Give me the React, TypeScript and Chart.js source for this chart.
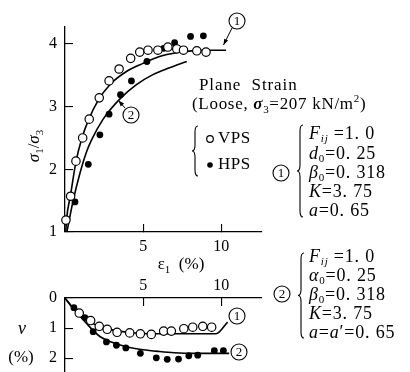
import React, { useEffect, useRef } from "react";
import { Chart, registerables } from "chart.js";

Chart.register(...registerables);

// ---------- data ----------
const strainTicks = [5, 10];
const ratioTicks = [1, 2, 3, 4];
const volTicks = [0, 1, 2];

// upper panel: principal stress ratio vs axial strain
const vpsStrain = [0.06, 0.36, 0.7, 1.13, 1.55, 2.19, 2.82, 3.46, 4.2, 4.78, 5.31, 5.94, 6.58, 7.15, 7.58, 8.43, 9.02];
const vpsRatio = [1.19, 1.57, 2.13, 2.5, 2.8, 3.14, 3.41, 3.6, 3.77, 3.87, 3.9, 3.9, 3.95, 3.92, 3.9, 3.89, 3.87];
const hpsStrain = [0.64, 1.49, 2.23, 2.82, 3.55, 4.25, 5.24, 6.31, 7.01, 8.03, 8.85];
const hpsRatio = [1.48, 2.08, 2.55, 2.88, 3.19, 3.41, 3.72, 3.93, 4.02, 4.12, 4.13];
const fit1Strain = [0.05, 0.1, 0.36, 0.7, 1.06, 1.49, 2.12, 2.87, 3.93, 4.99, 6.05, 7.11, 8.17, 8.81, 10.3];
const fit1Ratio = [1.0, 1.2, 1.6, 2.12, 2.48, 2.78, 3.1, 3.35, 3.56, 3.69, 3.8, 3.86, 3.89, 3.9, 3.9];
const fit2Strain = [0.12, 0.53, 0.96, 1.38, 1.7, 2.44, 3.5, 4.57, 5.62, 6.69, 7.79];
const fit2Ratio = [1.0, 1.51, 1.94, 2.28, 2.47, 2.8, 3.12, 3.35, 3.51, 3.62, 3.72];

// lower panel: volumetric strain vs axial strain
const vpsVStrain = [0.91, 1.64, 2.19, 2.7, 3.33, 4.14, 4.82, 5.52, 6.31, 6.8, 7.6, 8.17, 8.81, 9.38];
const vpsVol = [0.5, 0.75, 0.94, 1.04, 1.14, 1.16, 1.19, 1.21, 1.1, 1.1, 1.02, 0.97, 0.94, 0.97];
const hpsVStrain = [0.57, 1.27, 1.8, 2.65, 3.29, 3.89, 4.82, 5.84, 6.54, 7.26, 7.92, 8.49, 9.55, 10.13];
const hpsVol = [0.32, 0.65, 1.12, 1.46, 1.57, 1.66, 1.84, 1.99, 2.04, 2.03, 1.92, 1.9, 1.75, 1.75];
const fit1VStrain = [0, 0.5, 1, 1.5, 2, 3, 4, 5, 5.6, 9.66, 10.4];
const fit1Vol = [0, 0.33, 0.58, 0.77, 0.9, 1.06, 1.14, 1.18, 1.19, 1.19, 0.8];
const fit2VStrain = [0, 0.5, 1, 1.38, 2.23, 3.0, 3.93, 5, 6.05, 7, 8.17, 10.5];
const fit2Vol = [0, 0.33, 0.62, 0.85, 1.28, 1.47, 1.62, 1.72, 1.78, 1.82, 1.84, 1.84];

const zip = (xs: number[], ys: number[]) => xs.map((x, i) => ({ x, y: ys[i] }));

// ---------- drawing helpers ----------
const SERIF = '"Liberation Serif", "DejaVu Serif", serif';
type Part = { t: string; it?: boolean; sub?: boolean; sup?: boolean; bold?: boolean };

function fontFor(p: Part, size: number) {
  const s = p.sub || p.sup ? Math.round(size * 0.62) : size;
  return `${p.it ? "italic " : ""}${p.bold ? "bold " : ""}${s}px ${SERIF}`;
}

function drawRich(ctx: CanvasRenderingContext2D, parts: Part[], x: number, y: number, size: number, align: "left" | "center" = "left", spacing = 0) {
  ctx.save();
  (ctx as any).letterSpacing = `${spacing}px`;
  ctx.textBaseline = "middle";
  ctx.textAlign = "left";
  ctx.fillStyle = "#000";
  const widths = parts.map((p) => {
    ctx.font = fontFor(p, size);
    return ctx.measureText(p.t).width;
  });
  const total = widths.reduce((a, b) => a + b, 0);
  let cx = align === "center" ? x - total / 2 : x;
  parts.forEach((p, i) => {
    ctx.font = fontFor(p, size);
    const dy = p.sub ? size * 0.3 : p.sup ? -size * 0.35 : 0;
    ctx.fillText(p.t, cx, y + dy);
    cx += widths[i];
  });
  ctx.restore();
}

function circled(ctx: CanvasRenderingContext2D, n: string, x: number, y: number) {
  ctx.save();
  ctx.strokeStyle = "#000";
  ctx.lineWidth = 1.1;
  ctx.beginPath();
  ctx.arc(x, y, 8, 0, Math.PI * 2);
  ctx.fillStyle = "#fff";
  ctx.fill();
  ctx.stroke();
  ctx.fillStyle = "#000";
  ctx.font = `13px ${SERIF}`;
  ctx.textAlign = "center";
  ctx.textBaseline = "middle";
  ctx.fillText(n, x, y + 1);
  ctx.restore();
}

function brace(ctx: CanvasRenderingContext2D, x: number, y1: number, y2: number, w: number) {
  const ym = (y1 + y2) / 2;
  ctx.save();
  ctx.strokeStyle = "#000";
  ctx.lineWidth = 1.1;
  ctx.beginPath();
  ctx.moveTo(x + w, y1);
  ctx.quadraticCurveTo(x + w / 2, y1, x + w / 2, y1 + w);
  ctx.lineTo(x + w / 2, ym - w);
  ctx.quadraticCurveTo(x + w / 2, ym, x, ym);
  ctx.quadraticCurveTo(x + w / 2, ym, x + w / 2, ym + w);
  ctx.lineTo(x + w / 2, y2 - w);
  ctx.quadraticCurveTo(x + w / 2, y2, x + w, y2);
  ctx.stroke();
  ctx.restore();
}

function leader(ctx: CanvasRenderingContext2D, x1: number, y1: number, x2: number, y2: number) {
  ctx.save();
  ctx.strokeStyle = "#000";
  ctx.fillStyle = "#000";
  ctx.lineWidth = 1;
  ctx.beginPath();
  ctx.moveTo(x1, y1);
  ctx.lineTo(x2, y2);
  ctx.stroke();
  const a = Math.atan2(y2 - y1, x2 - x1);
  const L = 6, Wd = 2.2;
  ctx.beginPath();
  ctx.moveTo(x2, y2);
  ctx.lineTo(x2 - L * Math.cos(a) + Wd * Math.sin(a), y2 - L * Math.sin(a) - Wd * Math.cos(a));
  ctx.lineTo(x2 - L * Math.cos(a) - Wd * Math.sin(a), y2 - L * Math.sin(a) + Wd * Math.cos(a));
  ctx.closePath();
  ctx.fill();
  ctx.restore();
}

function params(ctx: CanvasRenderingContext2D, lines: Part[][], x: number, ys: number[]) {
  lines.forEach((ln, i) => drawRich(ctx, ln, x, ys[i], 18, "left", 0.8));
}

const param1: Part[][] = [
  [{ t: "F", it: true }, { t: "ij", it: true, sub: true }, { t: " =1. 0" }],
  [{ t: "d", it: true }, { t: "0", sub: true }, { t: "=0. 25" }],
  [{ t: "β", it: true }, { t: "0", sub: true }, { t: "=0. 318" }],
  [{ t: "K", it: true }, { t: "=3. 75" }],
  [{ t: "a", it: true }, { t: "=0. 65" }],
];
const param2: Part[][] = [
  [{ t: "F", it: true }, { t: "ij", it: true, sub: true }, { t: " =1. 0" }],
  [{ t: "α", it: true }, { t: "0", sub: true }, { t: "=0. 25" }],
  [{ t: "β", it: true }, { t: "0", sub: true }, { t: "=0. 318" }],
  [{ t: "K", it: true }, { t: "=3. 75" }],
  [{ t: "a", it: true }, { t: "=" }, { t: "a", it: true }, { t: "′=0. 65" }],
];

const topAnnotations = {
  id: "topAnnotations",
  afterDraw(chart: any) {
    const ctx: CanvasRenderingContext2D = chart.ctx;
    ctx.save();
    ctx.translate(35, 146);
    ctx.rotate(-Math.PI / 2);
    drawRich(ctx, [{ t: "σ", it: true }, { t: "1", sub: true }, { t: "/" }, { t: "σ", it: true }, { t: "3", sub: true }], 0, 0, 17, "center");
    ctx.restore();
    drawRich(ctx, [{ t: "ε" }, { t: "1", sub: true }, { t: "  (%)" }], 181, 265, 17, "center");
    leader(ctx, 232, 28, 223.5, 45);
    circled(ctx, "1", 237, 21);
    leader(ctx, 125, 108, 118.5, 100.5);
    circled(ctx, "2", 131, 115);
    drawRich(ctx, [{ t: "Plane  Strain" }], 199, 86, 17, "left", 0.9);
    drawRich(ctx, [{ t: "(Loose, " }, { t: "σ", it: true, bold: true }, { t: "3", sub: true }, { t: "=207 kN/m" }, { t: "2", sup: true }, { t: ")" }], 192, 105, 17, "left", 0.7);
    brace(ctx, 192, 126, 176, 6);
    ctx.save();
    ctx.lineWidth = 1.2;
    ctx.strokeStyle = "#000";
    ctx.beginPath();
    ctx.arc(210, 139, 3.3, 0, Math.PI * 2);
    ctx.stroke();
    ctx.beginPath();
    ctx.fillStyle = "#000";
    ctx.arc(210, 165, 2.8, 0, Math.PI * 2);
    ctx.fill();
    ctx.restore();
    drawRich(ctx, [{ t: "VPS" }], 218, 139, 17, "left", 0.5);
    drawRich(ctx, [{ t: "HPS" }], 218, 165, 17, "left", 0.5);
    circled(ctx, "1", 281, 173);
    brace(ctx, 297, 125, 217, 6);
    params(ctx, param1, 309, [134, 154, 173, 192, 211]);
  },
};

const bottomAnnotations = {
  id: "bottomAnnotations",
  afterDraw(chart: any) {
    const ctx: CanvasRenderingContext2D = chart.ctx;
    drawRich(ctx, [{ t: "v", it: true }], 22, 329, 18, "center");
    drawRich(ctx, [{ t: "(%)" }], 21, 358, 17, "center");
    circled(ctx, "1", 237, 316);
    circled(ctx, "2", 239, 352);
    circled(ctx, "2", 282, 294);
    brace(ctx, 298, 253, 338, 6);
    params(ctx, param2, 309, [257, 276, 295, 314, 333]);
  },
};

const tickFont = { family: SERIF, size: 16 };

function axisCommon(tickVals: number[], padding: number) {
  return {
    type: "linear" as const,
    afterBuildTicks: (s: any) => {
      s.ticks = tickVals.map((v) => ({ value: v }));
    },
    grid: { drawOnChartArea: false, drawTicks: true, tickLength: -8, color: "#000", lineWidth: 1.1 },
    border: { display: true, color: "#000", width: 1.3 },
    ticks: { padding, color: "#000", font: tickFont, maxRotation: 0, minRotation: 0, autoSkip: false },
  };
}

const fitX = (h: number) => (s: any) => {
  s.height = h;
  s.paddingLeft = 0;
  s.paddingRight = 0;
};
const fitY = (w: number) => (s: any) => {
  s.width = w;
  s.paddingTop = 0;
  s.paddingBottom = 0;
};

function pointSets(openData: any[], filledData: any[], fitA: any[], fitB: any[]) {
  return [
    { data: openData, showLine: false, pointRadius: 4.2, pointBorderWidth: 1.2, pointBackgroundColor: "#fff", pointBorderColor: "#000", clip: false as any },
    { data: filledData, showLine: false, pointRadius: 3.4, pointBorderWidth: 0, pointBackgroundColor: "#000", pointBorderColor: "#000", clip: false as any },
    { data: fitA, showLine: true, pointRadius: 0, borderColor: "#000", borderWidth: 1.6, cubicInterpolationMode: "monotone" as const, clip: false as any },
    { data: fitB, showLine: true, pointRadius: 0, borderColor: "#000", borderWidth: 1.6, cubicInterpolationMode: "monotone" as const, clip: false as any },
  ];
}

export default function App() {
  const topRef = useRef<HTMLCanvasElement>(null);
  const botRef = useRef<HTMLCanvasElement>(null);

  useEffect(() => {
    const top = new Chart(topRef.current!, {
      type: "scatter",
      data: {
        datasets: pointSets(zip(vpsStrain, vpsRatio), zip(hpsStrain, hpsRatio), zip(fit1Strain, fit1Ratio), zip(fit2Strain, fit2Ratio)) as any,
      },
      options: {
        responsive: false,
        animation: false,
        devicePixelRatio: 1,
        events: [],
        layout: { autoPadding: false, padding: { left: 0, top: 27, right: 148, bottom: 110 } },
        plugins: { legend: { display: false }, tooltip: { enabled: false } },
        scales: {
          x: { ...axisCommon(strainTicks, 13), position: "bottom", min: 0, max: 12.6, afterFit: fitX(30) },
          y: { ...axisCommon(ratioTicks, 16), position: "left", min: 1, max: 4.27, afterFit: fitY(65) },
        } as any,
      } as any,
      plugins: [topAnnotations],
    });
    const bot = new Chart(botRef.current!, {
      type: "scatter",
      data: {
        datasets: pointSets(zip(vpsVStrain, vpsVol), zip(hpsVStrain, hpsVol), zip(fit1VStrain, fit1Vol), zip(fit2VStrain, fit2Vol)) as any,
      },
      options: {
        responsive: false,
        animation: false,
        devicePixelRatio: 1,
        events: [],
        layout: { autoPadding: false, padding: { left: 0, top: 268, right: 148, bottom: 0 } },
        plugins: { legend: { display: false }, tooltip: { enabled: false } },
        scales: {
          x: { ...axisCommon(strainTicks, 11), position: "top", min: 0, max: 12.6, afterFit: fitX(30) },
          y: { ...axisCommon(volTicks, 16), position: "left", reverse: true, min: 0, max: 2.46, afterFit: fitY(65) },
        } as any,
      } as any,
      plugins: [bottomAnnotations],
    });
    return () => {
      top.destroy();
      bot.destroy();
    };
  }, []);

  return (
    <div style={{ position: "fixed", left: 0, top: 0, width: 410, height: 372, background: "#fff", overflow: "hidden" }}>
      <canvas ref={topRef} width={410} height={372} style={{ position: "absolute", left: 0, top: 0 }} />
      <canvas ref={botRef} width={410} height={372} style={{ position: "absolute", left: 0, top: 0 }} />
    </div>
  );
}
